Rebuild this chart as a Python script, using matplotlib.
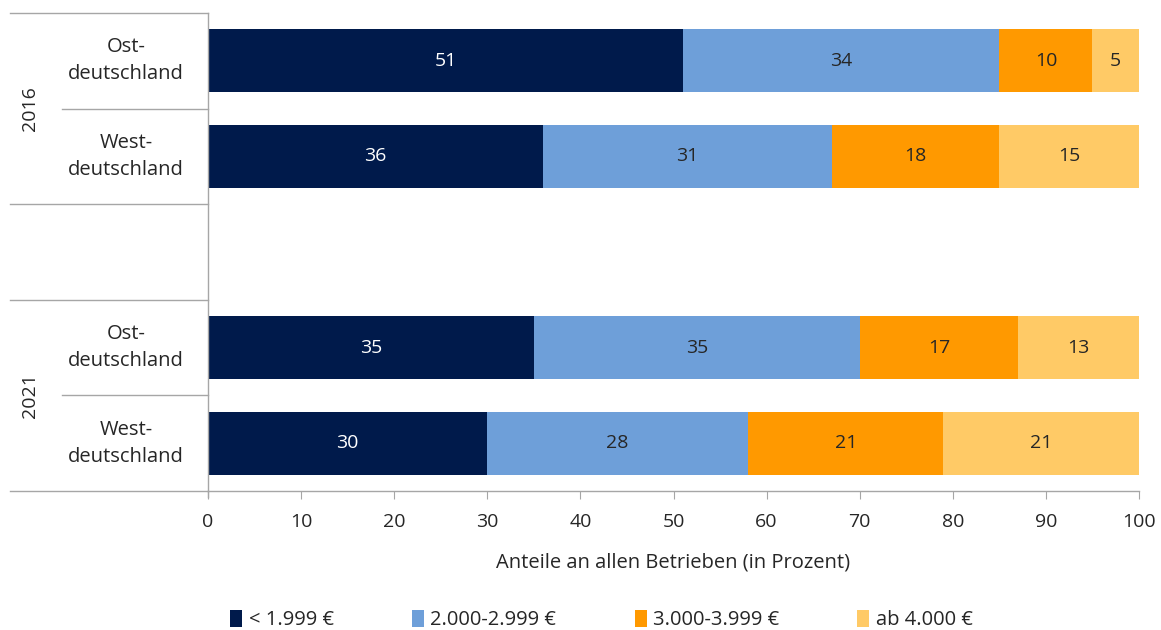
import matplotlib
matplotlib.use("Agg")
import matplotlib.pyplot as plt
from matplotlib.patches import Patch
from matplotlib.lines import Line2D

plt.rcParams['font.family'] = ['Open Sans', 'DejaVu Sans']

# Data: share of establishments by wage band (percent)
years = ["2016", "2021"]
regions = ["Ost-\ndeutschland", "West-\ndeutschland"]
bands = ["< 1.999 €", "2.000-2.999 €", "3.000-3.999 €", "ab 4.000 €"]
colors = ["#001a4b", "#6e9fd9", "#ff9900", "#ffca66"]
label_colors = ["white", "#262626", "#262626", "#262626"]

ost_2016 = [51, 34, 10, 5]
west_2016 = [36, 31, 18, 15]
ost_2021 = [35, 35, 17, 13]
west_2021 = [30, 28, 21, 21]

rows = [ost_2016, west_2016, None, ost_2021, west_2021]
row_labels = [regions[0], regions[1], None, regions[0], regions[1]]

fig = plt.figure(figsize=(11.61, 6.30), dpi=100)
ax = fig.add_axes([208 / 1161, 1 - 491 / 630, 931 / 1161, 478 / 630])

text_color = "#262626"
line_color = "#a6a6a6"

for i, vals in enumerate(rows):
    if vals is None:
        continue
    left = 0
    for v, c, lc in zip(vals, colors, label_colors):
        ax.barh(i, v, left=left, height=0.66, color=c, edgecolor="none")
        ax.text(left + v / 2, i, f"{v}", ha="center", va="center",
                color=lc, fontsize=14)
        left += v

ax.set_xlim(0, 100)
ax.set_ylim(4.5, -0.5)
ax.set_xticks(range(0, 101, 10))
ax.set_yticks([])
ax.tick_params(axis="x", length=6, color=line_color, labelsize=14,
               labelcolor=text_color, pad=10)
ax.set_xlabel("Anteile an allen Betrieben (in Prozent)", fontsize=14.5,
              color=text_color, labelpad=15)

for s in ["top", "right"]:
    ax.spines[s].set_visible(False)
for s in ["left", "bottom"]:
    ax.spines[s].set_color(line_color)
    ax.spines[s].set_linewidth(1)

# Multi-level category axis on the left
tr = ax.get_yaxis_transform()
x_full = (10 - 208) / 931
x_short = (62 - 208) / 931
for y in [-0.5, 1.5, 2.5, 4.5]:
    ax.add_line(Line2D([x_full, 0], [y, y], transform=tr, color=line_color,
                       lw=1, clip_on=False))
for y in [0.5, 3.5]:
    ax.add_line(Line2D([x_short, 0], [y, y], transform=tr, color=line_color,
                       lw=1, clip_on=False))
ax.add_line(Line2D([0, 0], [4.5, 4.56], transform=tr, color=line_color,
                   lw=1, clip_on=False))

x_region = (126 - 208) / 931
for i, lab in enumerate(row_labels):
    if lab is None:
        continue
    ax.text(x_region, i, lab, transform=tr, ha="center", va="center",
            fontsize=14.5, color=text_color, linespacing=1.45)

x_year = (30 - 208) / 931
ax.text(x_year, 0.5, years[0], transform=tr, ha="center", va="center",
        rotation=90, fontsize=14, color=text_color)
ax.text(x_year, 3.5, years[1], transform=tr, ha="center", va="center",
        rotation=90, fontsize=14, color=text_color)

handles = [Patch(facecolor=c, edgecolor="none") for c in colors]
fig.legend(handles, bands, loc="center", bbox_to_anchor=(0.518, 1 - 620 / 630),
           ncol=4, frameon=False, fontsize=14.5, handlelength=0.6,
           handleheight=0.9, handletextpad=0.3, columnspacing=3.9,
           labelcolor=text_color)

fig.savefig("out.png", dpi=100)
